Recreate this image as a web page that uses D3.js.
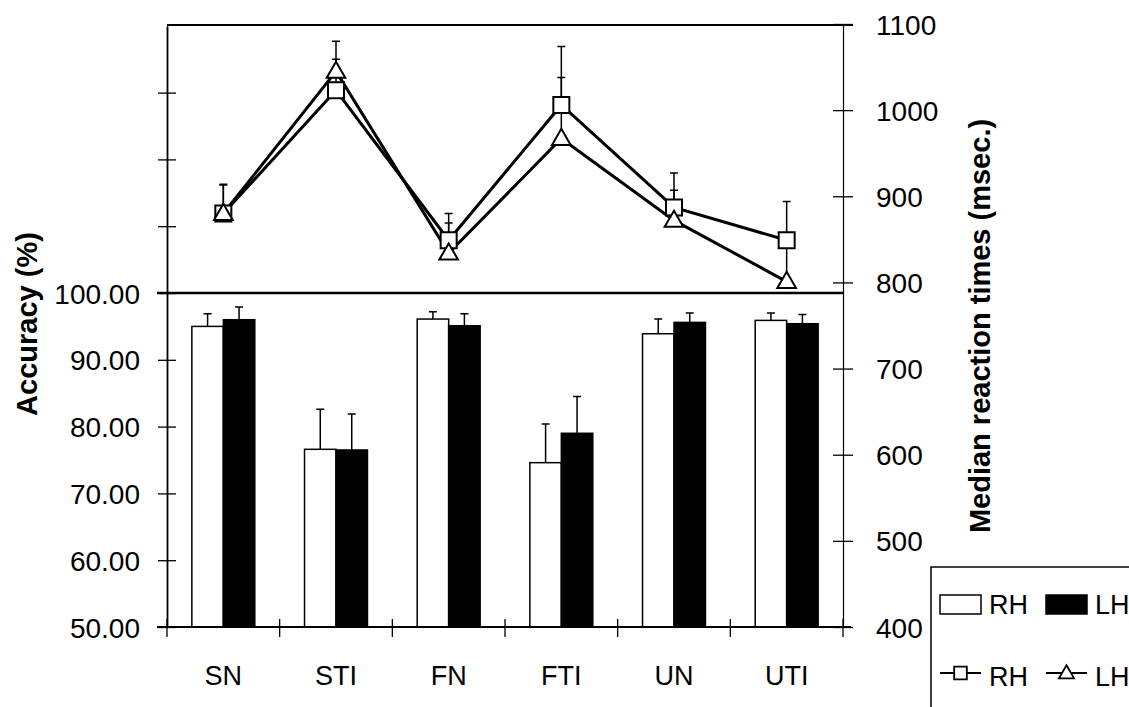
<!DOCTYPE html>
<html>
<head>
<meta charset="utf-8">
<script src="https://cdn.jsdelivr.net/npm/d3@7"></script>
<style>
  body { margin: 0; background: #fff; }
  text { font-family: "Liberation Sans", Arial, sans-serif; fill: #000; }
</style>
</head>
<body>
<svg id="chart" width="1129" height="707"></svg>
<script>
(function() {

  // conditions
  var cats = ["SN", "STI", "FN", "FTI", "UN", "UTI"];

  // accuracy (%) bars
  var accRH = [95.0, 76.6, 96.1, 74.6, 93.9, 95.9],
      accLH = [96.0, 76.5, 95.1, 79.0, 95.6, 95.4],
      accRHErr = [1.9, 6.0, 1.1, 5.8, 2.2, 1.1],
      accLHErr = [1.9, 5.4, 1.8, 5.5, 1.4, 1.4];

  // median reaction times (msec.) lines
  var rtRH = [880, 1023, 849, 1006, 887, 849],
      rtLH = [880, 1045, 834, 967, 872, 801],
      rtRHErr = [34, 36, 31, 68, 40, 45],
      rtLHErr = [33, 35, 35, 71, 35, 48];

  var leftTicks = [50, 60, 70, 80, 90, 100, 110, 120, 130],
      rightTicks = [400, 500, 600, 700, 800, 900, 1000, 1100];

  var left = 167, right = 843, top = 25, bottom = 627;

  var svg = d3.select("#chart");

  var x = d3.scaleBand()
      .domain(cats)
      .range([left, right])
      .paddingInner(0)
      .paddingOuter(0);

  var xSub = d3.scaleBand()
      .domain(["RH", "LH"])
      .range([0, x.bandwidth()])
      .paddingInner(0)
      .paddingOuter(0.79);

  var yLeft = d3.scaleLinear()
      .domain([50, 140])
      .range([bottom, top + 0.8]);

  var yRight = d3.scaleLinear()
      .domain([400, 1100])
      .range([bottom, top - 1]);

  // ---- bars ----
  var barData = cats.map(function(c, i) {
    return [
      {cat: c, key: "RH", v: accRH[i], e: accRHErr[i]},
      {cat: c, key: "LH", v: accLH[i], e: accLHErr[i]}
    ];
  }).flat();

  var bars = svg.append("g").attr("class", "bars");

  bars.selectAll(".err")
      .data(barData)
    .enter().append("path")
      .attr("class", "err")
      .attr("fill", "none")
      .attr("stroke", "#000")
      .attr("stroke-width", 1.5)
      .attr("d", function(d) {
        var cx = x(d.cat) + xSub(d.key) + xSub.bandwidth() / 2,
            y0 = yLeft(d.v), y1 = yLeft(d.v + d.e);
        return "M" + cx + "," + y0 + "V" + y1 + "M" + (cx - 4) + "," + y1 + "H" + (cx + 4);
      });

  bars.selectAll("rect")
      .data(barData)
    .enter().append("rect")
      .attr("x", function(d) { return x(d.cat) + xSub(d.key); })
      .attr("y", function(d) { return yLeft(d.v); })
      .attr("width", xSub.bandwidth())
      .attr("height", function(d) { return yLeft(50) - yLeft(d.v); })
      .attr("fill", function(d) { return d.key == "RH" ? "#fff" : "#000"; })
      .attr("stroke", "#000")
      .attr("stroke-width", 1.5);

  // ---- frame lines ----
  svg.append("line")
      .attr("x1", left).attr("x2", right + 10)
      .attr("y1", top).attr("y2", top)
      .attr("stroke", "#000").attr("stroke-width", 2);

  svg.append("line")
      .attr("x1", left - 10).attr("x2", right)
      .attr("y1", yLeft(100)).attr("y2", yLeft(100))
      .attr("stroke", "#000").attr("stroke-width", 2.5);

  svg.append("line")
      .attr("x1", left - 10).attr("x2", right + 8)
      .attr("y1", bottom).attr("y2", bottom)
      .attr("stroke", "#000").attr("stroke-width", 2);

  // ---- reaction time lines ----
  var lineGen = d3.line()
      .x(function(d, i) { return x(cats[i]) + x.bandwidth() / 2; })
      .y(function(d) { return yRight(d); });

  var rt = svg.append("g").attr("class", "rt");

  [[rtRH, rtRHErr], [rtLH, rtLHErr]].forEach(function(s) {
    rt.append("g").selectAll("path")
        .data(s[0])
      .enter().append("path")
        .attr("fill", "none")
        .attr("stroke", "#000")
        .attr("stroke-width", 1.5)
        .attr("d", function(d, i) {
          var cx = x(cats[i]) + x.bandwidth() / 2,
              y0 = yRight(d), y1 = yRight(d + s[1][i]);
          return "M" + cx + "," + y0 + "V" + y1 + "M" + (cx - 4) + "," + y1 + "H" + (cx + 4);
        });
  });

  rt.append("path")
      .datum(rtRH)
      .attr("d", lineGen)
      .attr("fill", "none")
      .attr("stroke", "#000")
      .attr("stroke-width", 3);

  rt.append("path")
      .datum(rtLH)
      .attr("d", lineGen)
      .attr("fill", "none")
      .attr("stroke", "#000")
      .attr("stroke-width", 3);

  var sq = d3.symbol().type(d3.symbolSquare).size(256),
      tri = d3.symbol().type(d3.symbolTriangle).size(150);

  rt.append("g").selectAll("path")
      .data(rtRH)
    .enter().append("path")
      .attr("transform", function(d, i) { return "translate(" + (x(cats[i]) + x.bandwidth() / 2) + "," + yRight(d) + ")"; })
      .attr("d", sq)
      .attr("fill", "#fff")
      .attr("stroke", "#000")
      .attr("stroke-width", 2);

  rt.append("g").selectAll("path")
      .data(rtLH)
    .enter().append("path")
      .attr("transform", function(d, i) { return "translate(" + (x(cats[i]) + x.bandwidth() / 2) + "," + (yRight(d) + 1) + ")"; })
      .attr("d", tri)
      .attr("fill", "#fff")
      .attr("stroke", "#000")
      .attr("stroke-width", 2);

  // ---- axes ----
  function crossTicks(g, half) {
    g.selectAll(".tick line").attr("x1", -half).attr("x2", half);
  }

  var leftAxis = svg.append("g")
      .attr("transform", "translate(" + left + ",0)")
      .call(d3.axisLeft(yLeft)
        .tickValues(leftTicks)
        .tickSize(0)
        .tickPadding(27)
        .tickFormat(function(d) { return d <= 100 ? d3.format(".2f")(d) : ""; }));
  leftAxis.select(".domain").attr("stroke-width", 1.8);
  crossTicks(leftAxis, 9);
  leftAxis.selectAll(".tick line").attr("stroke-width", 1.3);
  leftAxis.selectAll("text")
      .style("font-size", "28px")
      .attr("dy", "0.36em");

  var rightAxis = svg.append("g")
      .attr("transform", "translate(" + right + ",0)")
      .call(d3.axisRight(yRight)
        .tickValues(rightTicks)
        .tickSize(0)
        .tickPadding(33)
        .tickFormat(d3.format("d")));
  rightAxis.select(".domain").attr("stroke-width", 1.2);
  crossTicks(rightAxis, 10);
  rightAxis.selectAll(".tick line").attr("stroke-width", 1.3);
  rightAxis.selectAll("text")
      .style("font-size", "28px")
      .attr("dy", "0.36em");

  var bottomAxis = svg.append("g")
      .attr("transform", "translate(0," + bottom + ")")
      .call(d3.axisBottom(x).tickSize(0).tickPadding(39));
  bottomAxis.select(".domain").remove();
  bottomAxis.selectAll("text")
      .style("font-size", "27px")
      .attr("dy", "0.71em");

  var bounds = cats.map(function(c) { return x(c); }).concat([right]);
  svg.append("g").selectAll("line")
      .data(bounds)
    .enter().append("line")
      .attr("x1", function(d) { return d; })
      .attr("x2", function(d) { return d; })
      .attr("y1", bottom - 8)
      .attr("y2", bottom + 10)
      .attr("stroke", "#000")
      .attr("stroke-width", 1.3);

  // ---- axis titles ----
  svg.append("text")
      .attr("transform", "translate(37,324) rotate(-90)")
      .attr("text-anchor", "middle")
      .style("font-size", "29px")
      .style("font-weight", "bold")
      .text("Accuracy (%)");

  svg.append("text")
      .attr("transform", "translate(990,326) rotate(-90)")
      .attr("text-anchor", "middle")
      .style("font-size", "29px")
      .style("font-weight", "bold")
      .text("Median reaction times (msec.)");

  // ---- legend ----
  var legend = svg.append("g").attr("transform", "translate(931,567)");

  legend.append("rect")
      .attr("width", 260)
      .attr("height", 200)
      .attr("fill", "#fff")
      .attr("stroke", "#000")
      .attr("stroke-width", 1.5);

  var barKeys = [{label: "RH", fill: "#fff", x: 9}, {label: "LH", fill: "#000", x: 115}];
  legend.selectAll(".lb")
      .data(barKeys)
    .enter().append("rect")
      .attr("x", function(d) { return d.x; })
      .attr("y", 28)
      .attr("width", 41)
      .attr("height", 19)
      .attr("fill", function(d) { return d.fill; })
      .attr("stroke", "#000")
      .attr("stroke-width", 1.5);

  legend.selectAll(".lbt")
      .data(barKeys)
    .enter().append("text")
      .attr("x", function(d) { return d.x + 49; })
      .attr("y", 47)
      .style("font-size", "27px")
      .text(function(d) { return d.label; });

  var lineKeys = [{label: "RH", x: 9}, {label: "LH", x: 115}];
  lineKeys.forEach(function(d, i) {
    var g = legend.append("g").attr("transform", "translate(" + d.x + ",106)");
    g.append("line")
        .attr("x1", 0).attr("x2", 41)
        .attr("stroke", "#000").attr("stroke-width", 1.8);
    g.append("path")
        .attr("transform", "translate(20.5," + (i ? 1 : 0) + ")")
        .attr("d", i ? d3.symbol().type(d3.symbolTriangle).size(100)() : d3.symbol().type(d3.symbolSquare).size(160)())
        .attr("fill", "#fff")
        .attr("stroke", "#000")
        .attr("stroke-width", 1.8);
    g.append("text")
        .attr("x", 49)
        .attr("y", 13)
        .style("font-size", "27px")
        .text(d.label);
  });

})();
</script>
</body>
</html>
